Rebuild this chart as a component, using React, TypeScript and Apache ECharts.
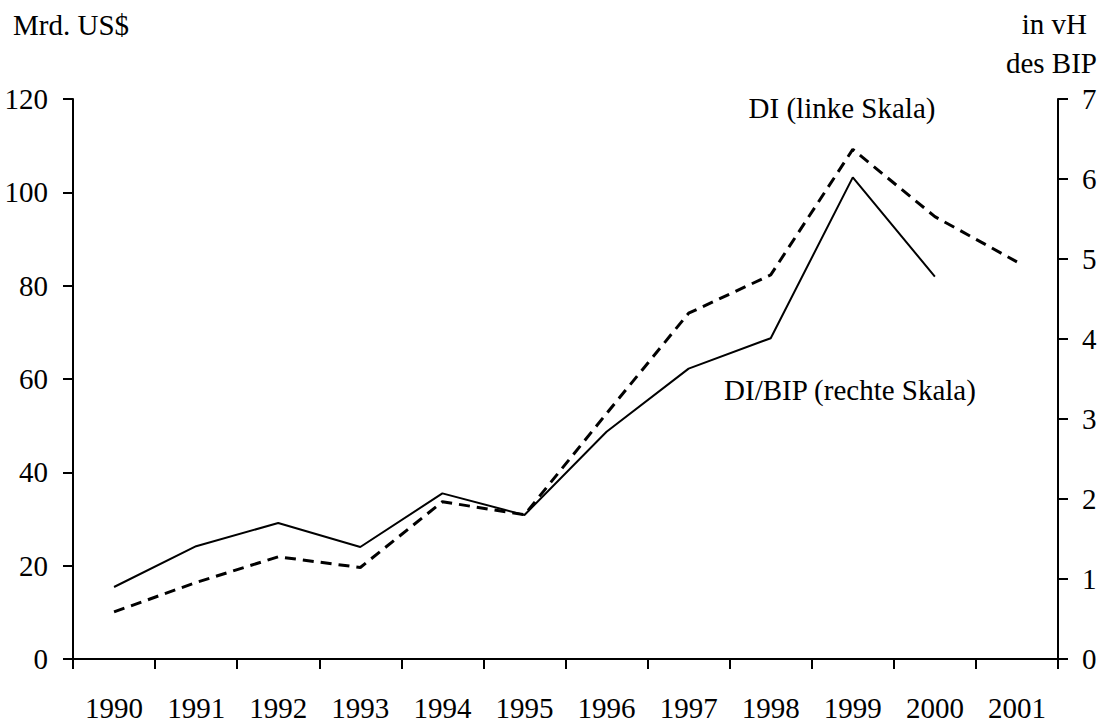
import React, { useEffect, useRef } from "react";
import * as echarts from "echarts";

const years = ["1990", "1991", "1992", "1993", "1994", "1995", "1996", "1997", "1998", "1999", "2000", "2001"];
const diLeft = [10.1, 16.4, 21.9, 19.6, 33.7, 30.9, 52.6, 74.1, 82.3, 109.2, 94.8, 85.1];
const diBipRight = [0.9, 1.41, 1.7, 1.4, 2.07, 1.8, 2.84, 3.63, 4.01, 6.02, 4.78, null];
const leftTicks = { min: 0, max: 120, interval: 20 };
const rightTicks = { min: 0, max: 7, interval: 1 };

const FONT = "'Liberation Serif', 'Times New Roman', serif";
const FS = 29;

export default function App() {
  const ref = useRef<HTMLDivElement>(null);
  useEffect(() => {
    if (!ref.current) return;
    const chart = echarts.init(ref.current, null, { renderer: "svg" });
    const axisLine = { show: true, lineStyle: { color: "#000", width: 2 } };
    chart.setOption({
      animation: false,
      backgroundColor: "#fff",
      textStyle: { fontFamily: FONT, color: "#000" },
      grid: { left: 73, right: 44, top: 99, bottom: 63, containLabel: false },
      xAxis: {
        type: "category",
        data: years,
        boundaryGap: true,
        axisLine,
        axisTick: { show: true, length: 10, inside: false, lineStyle: { color: "#000", width: 2 } },
        axisLabel: { fontFamily: FONT, fontSize: FS, color: "#000", margin: 34 },
        splitLine: { show: false },
      },
      yAxis: [
        {
          type: "value",
          position: "left",
          ...leftTicks,
          axisLine,
          axisTick: { show: true, length: 10, lineStyle: { color: "#000", width: 2 } },
          axisLabel: { fontFamily: FONT, fontSize: FS, color: "#000", margin: 25 },
          splitLine: { show: false },
        },
        {
          type: "value",
          position: "right",
          ...rightTicks,
          axisLine,
          axisTick: { show: true, length: 10, lineStyle: { color: "#000", width: 2 } },
          axisLabel: { fontFamily: FONT, fontSize: FS, color: "#000", margin: 24 },
          splitLine: { show: false },
        },
      ],
      series: [
        {
          name: "DI (linke Skala)",
          type: "line",
          yAxisIndex: 0,
          data: diLeft,
          symbol: "none",
          lineStyle: { color: "#000", width: 3, type: [11, 7] },
        },
        {
          name: "DI/BIP (rechte Skala)",
          type: "line",
          yAxisIndex: 1,
          data: diBipRight,
          symbol: "none",
          lineStyle: { color: "#000", width: 2 },
        },
      ],
      graphic: [
        { type: "text", x: 13, y: 25, style: { text: "Mrd. US$", font: `${FS}px ${FONT}`, fill: "#000", textVerticalAlign: "middle" } },
        { type: "text", x: 1087, y: 24, style: { text: "in vH", font: `${FS}px ${FONT}`, fill: "#000", textAlign: "right", textVerticalAlign: "middle" } },
        { type: "text", x: 1097, y: 63, style: { text: "des BIP", font: `${FS}px ${FONT}`, fill: "#000", textAlign: "right", textVerticalAlign: "middle" } },
        { type: "text", x: 842, y: 108, style: { text: "DI (linke Skala)", font: `${FS}px ${FONT}`, fill: "#000", textAlign: "center", textVerticalAlign: "middle" } },
        { type: "text", x: 850, y: 390, style: { text: "DI/BIP (rechte Skala)", font: `${FS}px ${FONT}`, fill: "#000", textAlign: "center", textVerticalAlign: "middle" } },
      ],
    });
    return () => chart.dispose();
  }, []);
  return <div ref={ref} style={{ width: 1102, height: 722, position: "absolute", left: 0, top: 0 }} />;
}
